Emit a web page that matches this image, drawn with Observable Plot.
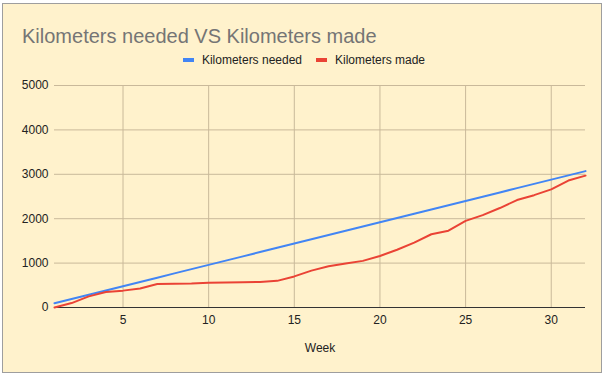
<!DOCTYPE html>
<html>
<head>
<meta charset="utf-8">
<script src="https://cdn.jsdelivr.net/npm/d3@7"></script>
<script src="https://cdn.jsdelivr.net/npm/@observablehq/plot@0.6"></script>
<style>
  html, body { margin: 0; padding: 0; background: #ffffff; }
  body { width: 605px; height: 376px; position: relative; overflow: hidden; font-family: Arial, "Liberation Sans", sans-serif; }
  #chart { position: absolute; left: 2px; top: 3px; width: 598px; height: 368px; border: 1px solid #9e9e9e; background: #fff2cc; }
  #header { position: relative; height: 72px; }
  #title { position: absolute; left: 19px; top: 21px; font-size: 20px; line-height: 22px; color: #757575; white-space: nowrap; }
  #legend { position: absolute; left: 0; right: 0; top: 49px; display: flex; justify-content: center; font-size: 12px; line-height: 14px; color: #222; padding-left: 4px; }
  .item { display: flex; align-items: center; margin: 0 7px; }
  .sw { width: 11px; height: 4px; margin-right: 8px; }
  svg { display: block; }
</style>
</head>
<body>
<div id="chart">
  <div id="header">
    <div id="title"></div>
    <div id="legend"></div>
  </div>
  <div id="plot"></div>
</div>
<script>
const weeks = [1,2,3,4,5,6,7,8,9,10,11,12,13,14,15,16,17,18,19,20,21,22,23,24,25,26,27,28,29,30,31,32];
const kmNeeded = [96,192,288,384,480,576,672,768,864,960,1056,1152,1248,1344,1440,1536,1632,1728,1824,1920,2016,2112,2208,2304,2400,2496,2592,2688,2784,2880,2976,3072];
const kmMade = [0,100,250,350,380,430,530,535,540,560,565,570,575,600,700,830,930,990,1050,1160,1300,1460,1650,1730,1950,2080,2240,2420,2530,2660,2860,2970];
const seriesNames = ["Kilometers needed", "Kilometers made"];
const seriesColors = ["#4285f4", "#ea4335"];
const xTicks = [5,10,15,20,25,30];
const yTicks = [0,1000,2000,3000,4000,5000];
const titleText = "Kilometers needed VS Kilometers made";
const xLabel = "Week";

document.getElementById("title").textContent = titleText;
const legend = document.getElementById("legend");
seriesNames.forEach((n, i) => {
  const it = document.createElement("div"); it.className = "item";
  const sw = document.createElement("div"); sw.className = "sw"; sw.style.background = seriesColors[i];
  const tx = document.createElement("span"); tx.textContent = n;
  it.appendChild(sw); it.appendChild(tx); legend.appendChild(it);
});

const rows = [];
weeks.forEach((w, i) => {
  rows.push({week: w, km: kmNeeded[i], series: seriesNames[0]});
  rows.push({week: w, km: kmMade[i], series: seriesNames[1]});
});

const plot = Plot.plot({
  width: 598,
  height: 296,
  marginTop: 9,
  marginBottom: 65,
  marginLeft: 51,
  marginRight: 16,
  style: { background: "transparent", fontFamily: "Arial, 'Liberation Sans', sans-serif", fontSize: "12px", color: "#222" },
  x: { domain: [1, 32] },
  y: { domain: [0, 5000] },
  color: { domain: seriesNames, range: seriesColors },
  marks: [
    Plot.gridX(xTicks, { stroke: "#c9b99a", strokeOpacity: 1, strokeWidth: 1 }),
    Plot.gridY(yTicks.filter(d => d > 0), { stroke: "#c9b99a", strokeOpacity: 1, strokeWidth: 1 }),
    Plot.axisX(xTicks, { tickSize: 0, tickPadding: 8, tickFormat: d => String(d), label: xLabel, labelArrow: "none", labelAnchor: "center", labelOffset: 44, fill: "#222", fontSize: 12 }),
    Plot.axisY(yTicks, { tickSize: 0, tickPadding: 6, tickFormat: d => String(d), label: null, fill: "#222", fontSize: 12 }),
    Plot.ruleY([0], { stroke: "#333", strokeWidth: 1 }),
    Plot.line(rows, { x: "week", y: "km", stroke: "series", z: "series", strokeWidth: 2 })
  ]
});
document.getElementById("plot").appendChild(plot);
</script>
</body>
</html>
